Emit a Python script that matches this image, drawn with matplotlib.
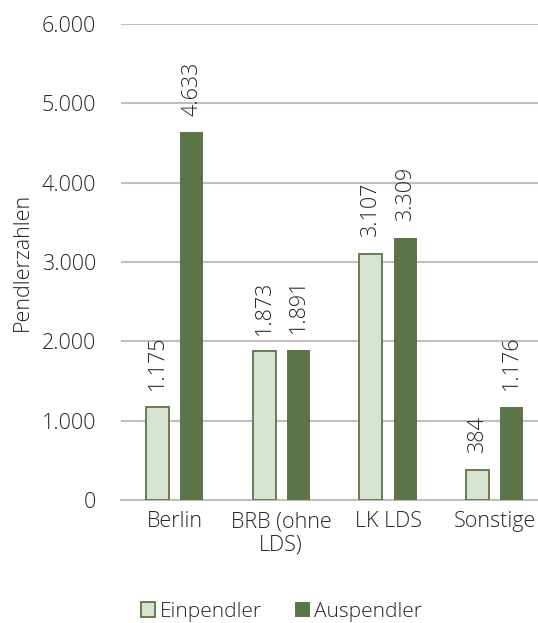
import matplotlib
matplotlib.use("Agg")
import matplotlib.pyplot as plt
import numpy as np

categories = ["Berlin", "BRB (ohne\nLDS)", "LK LDS", "Sonstige"]
einpendler = [1175, 1873, 3107, 384]
auspendler = [4633, 1891, 3309, 1176]
yticks = [0, 1000, 2000, 3000, 4000, 5000, 6000]

LIGHT = "#d8e4d0"
DARK = "#5b7548"
GRID = "#bfbfbf"
TEXT = "#262626"
FS = 15.5

plt.rcParams["font.family"] = ["Open Sans", "DejaVu Sans"]
plt.rcParams["font.weight"] = "light"

def fmt(v):
    return f"{v:,.0f}".replace(",", ".")

fig = plt.figure(figsize=(5.38, 6.23), dpi=100)
ax = fig.add_axes([0.225, 0.1974, 0.794, 0.764])

x = np.arange(len(categories))
w = 0.215
off = 0.16

b1 = ax.bar(x - off, einpendler, width=w, color=LIGHT, edgecolor=DARK,
            linewidth=1.3, label="Einpendler", zorder=3)
b2 = ax.bar(x + off, auspendler, width=w, color=DARK, edgecolor=DARK,
            linewidth=0, label="Auspendler", zorder=3)

for bars, vals in ((b1, einpendler), (b2, auspendler)):
    for rect, v in zip(bars, vals):
        ax.annotate(fmt(v), (rect.get_x() + rect.get_width() / 2, v),
                    xytext=(0, 12), textcoords="offset points",
                    rotation=90, ha="center", va="bottom",
                    fontsize=FS, color=TEXT)

ax.set_xlim(-0.5, len(categories) - 0.5)
ax.set_ylim(0, 6000)
ax.set_yticks(yticks)
ax.set_yticklabels([fmt(t) for t in yticks], fontsize=FS, color=TEXT)
ax.set_xticks(x)
ax.set_xticklabels(categories, fontsize=FS, color=TEXT, linespacing=1.15)
ax.tick_params(axis="y", length=0, pad=18)
ax.tick_params(axis="x", length=0, pad=8)

ax.yaxis.grid(True, color=GRID, linewidth=1.5, zorder=0)
for s in ("left", "right", "top"):
    ax.spines[s].set_visible(False)
ax.spines["bottom"].set_color(GRID)
ax.spines["bottom"].set_linewidth(1.5)

ax.set_ylabel("Pendlerzahlen", fontsize=FS, color=TEXT, fontweight="light",
              labelpad=6)

fig.legend(handles=[b1, b2], loc="center", bbox_to_anchor=(0.523, 0.018),
           ncol=2, frameon=False, fontsize=15, handlelength=0.7,
           handleheight=0.7, handletextpad=0.2, columnspacing=1.6,
           labelcolor=TEXT)

fig.savefig("out.png", dpi=100)
